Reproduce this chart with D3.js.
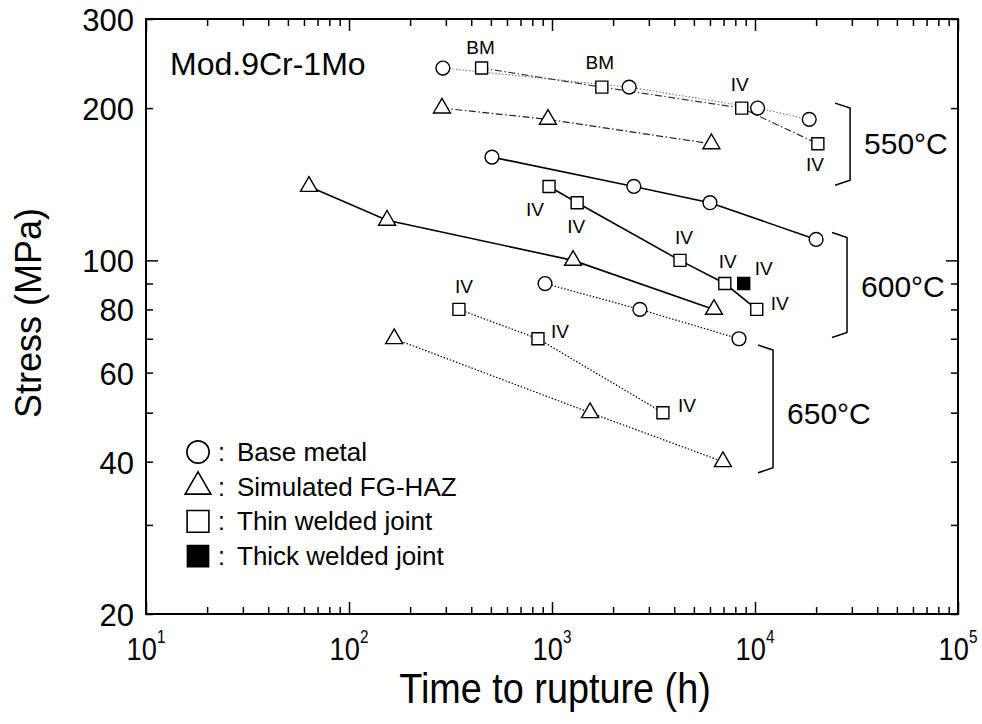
<!DOCTYPE html>
<html>
<head>
<meta charset="utf-8">
<script src="https://cdn.jsdelivr.net/npm/d3@7"></script>
<style>
  body { margin: 0; background: #fff; }
  text { font-family: "Liberation Sans", Arial, sans-serif; fill: #000; }
</style>
</head>
<body>
<div id="chart"></div>
<script>
// Chart size
const w = 982;
const h = 724;

// Axis ticks
const timeTicks = [10,20,30,40,50,60,70,80,90,100,200,300,400,500,600,700,800,900,
                   1000,2000,3000,4000,5000,6000,7000,8000,9000,
                   10000,20000,30000,40000,50000,60000,70000,80000,90000,100000];
const timeDecades = [1, 2, 3, 4, 5];
const stressTicks = [20, 30, 40, 50, 60, 70, 80, 90, 100, 200, 300];
const stressLabels = [20, 40, 60, 80, 100, 200, 300];

// Data: [time to rupture (h), stress (MPa)]
const bm550 = [[290, 240], [2400, 220], [10300, 200], [18500, 190]];
const thin550 = [[450, 240], [1760, 220], [8600, 200], [20400, 170]];
const haz550 = [[287, 200], [955, 190], [6100, 170]];
const bm600 = [[506, 160], [2530, 140], [6000, 130], [20000, 110]];
const thin600 = [[967, 140], [1330, 130], [4270, 100], [7100, 90], [10200, 80]];
const thick600 = [[8800, 90]];
const haz600 = [[63.5, 140], [154, 120], [1270, 100], [6280, 80]];
const bm650 = [[924, 90], [2710, 80], [8340, 70]];
const thin650 = [[348, 80], [853, 70], [3520, 50]];
const haz650 = [[167, 70], [1540, 50], [6950, 40]];

// Fracture location notes, anchored on a data point
const notes = [
  {text: "BM", t: 450, s: 240, dx: -1, dy: -21},
  {text: "BM", t: 1760, s: 220, dx: -2, dy: -25},
  {text: "IV", t: 8600, s: 200, dx: -2, dy: -24},
  {text: "IV", t: 20400, s: 170, dx: -3, dy: 20},
  {text: "IV", t: 967, s: 140, dx: -14, dy: 23},
  {text: "IV", t: 1330, s: 130, dx: -1, dy: 23},
  {text: "IV", t: 4270, s: 100, dx: 4, dy: -23},
  {text: "IV", t: 7100, s: 90, dx: 3, dy: -22},
  {text: "IV", t: 8800, s: 90, dx: 20, dy: -15},
  {text: "IV", t: 10200, s: 80, dx: 23, dy: -6},
  {text: "IV", t: 348, s: 80, dx: 5, dy: -23},
  {text: "IV", t: 853, s: 70, dx: 22, dy: -8},
  {text: "IV", t: 3520, s: 50, dx: 24, dy: -8}
];

// Temperature brackets
const groups = [
  {label: "550°C", t: 29400, top: 200, bottom: 144, mid: 171},
  {label: "600°C", t: 28400, top: 111, bottom: 72, mid: 89},
  {label: "650°C", t: 12270, top: 66.5, bottom: 38.9, mid: 50}
];

const legendItems = ["Base metal", "Simulated FG-HAZ", "Thin welded joint", "Thick welded joint"];

// Scales
const x = d3.scaleLog().domain([10, 1e5]).range([146, 958]);
const y = d3.scaleLog().domain([20, 300]).range([614, 19]);

const svg = d3.select("#chart")
              .append("svg")
              .attr("width", w)
              .attr("height", h);

// Axes, ticks drawn inward on all four sides
function styleTicks(g, isMajor, vertical) {
  g.select(".domain").remove();
  g.selectAll(".tick text").remove();
  g.selectAll(".tick line")
   .attr("stroke", "#000")
   .attr("stroke-width", 1.5)
   .each(function (d) {
     const len = isMajor(d) ? 12 : 7;
     const el = d3.select(this);
     const sign = +el.attr(vertical ? "x2" : "y2") < 0 ? -1 : 1;
     el.attr(vertical ? "x2" : "y2", sign * len);
   });
}
const isDecade = d => Math.abs(Math.log10(d) - Math.round(Math.log10(d))) < 1e-6;
const isHundred = d => d === 100;

svg.append("g").attr("transform", "translate(0,614)")
   .call(d3.axisBottom(x).tickValues(timeTicks).tickSize(-7))
   .call(g => styleTicks(g, isDecade, false));
svg.append("g").attr("transform", "translate(0,19)")
   .call(d3.axisTop(x).tickValues(timeTicks).tickSize(-7))
   .call(g => styleTicks(g, isDecade, false));
svg.append("g").attr("transform", "translate(146,0)")
   .call(d3.axisLeft(y).tickValues(stressTicks).tickSize(-7))
   .call(g => styleTicks(g, isHundred, true));
svg.append("g").attr("transform", "translate(958,0)")
   .call(d3.axisRight(y).tickValues(stressTicks).tickSize(-7))
   .call(g => styleTicks(g, isHundred, true));

// Frame
svg.append("rect")
   .attr("x", 146).attr("y", 19)
   .attr("width", 958 - 146).attr("height", 614 - 19)
   .attr("fill", "none")
   .attr("stroke", "#000")
   .attr("stroke-width", 2);

// Y tick labels
svg.selectAll(".ylab")
   .data(stressLabels)
   .enter()
   .append("text")
   .attr("class", "ylab")
   .attr("x", 134)
   .attr("y", d => y(d) + 12)
   .attr("text-anchor", "end")
   .style("font-size", "31px")
   .text(d => d);

// X tick labels 10^n (condensed)
const xl = svg.selectAll(".xlab")
   .data(timeDecades)
   .enter()
   .append("g")
   .attr("class", "xlab")
   .attr("transform", d => "translate(" + x(Math.pow(10, d)) + ",660) scale(0.85,1)")
   .append("text")
   .attr("text-anchor", "middle")
   .style("font-size", "32px");
xl.append("tspan").text("10");
xl.append("tspan").attr("dy", -17).style("font-size", "18px").text(d => d);

// Axis titles
svg.append("g")
   .attr("transform", "translate(555,703) scale(0.9,1)")
   .append("text")
   .attr("text-anchor", "middle")
   .style("font-size", "42px")
   .text("Time to rupture (h)");

svg.append("text")
   .attr("transform", "translate(41,313) rotate(-90)")
   .attr("text-anchor", "middle")
   .style("font-size", "36px")
   .text("Stress (MPa)");

svg.append("text")
   .attr("x", 170).attr("y", 75)
   .style("font-size", "32px")
   .text("Mod.9Cr-1Mo");

// Lines
const line = d3.line().x(d => x(d[0])).y(d => y(d[1]));
const dashDot = "7,2.5,1.5,2.5";
const dotted = "1.5,1.8";
const series = [
  {data: bm550, shape: "circle", dash: dotted, color: "#777", width: 1.1},
  {data: thin550, shape: "square", dash: dashDot, color: "#333", width: 1.2},
  {data: haz550, shape: "triangle", dash: dashDot, color: "#222", width: 1.2},
  {data: bm600, shape: "circle", dash: null, color: "#000", width: 1.6},
  {data: thin600, shape: "square", dash: null, color: "#000", width: 1.6},
  {data: haz600, shape: "triangle", dash: null, color: "#000", width: 1.6},
  {data: bm650, shape: "circle", dash: dotted, color: "#000", width: 1.2},
  {data: thin650, shape: "square", dash: dotted, color: "#000", width: 1.2},
  {data: haz650, shape: "triangle", dash: dotted, color: "#000", width: 1.2}
];

series.forEach(function (s) {
  svg.append("path")
     .attr("d", line(s.data))
     .attr("fill", "none")
     .attr("stroke", s.color)
     .attr("stroke-width", s.width)
     .attr("stroke-dasharray", s.dash);
});

// Markers
const symbols = {circle: d3.symbolCircle, square: d3.symbolSquare, triangle: d3.symbolTriangle};
const areas = {circle: 150, square: 144, triangle: 125};

function drawMarkers(data, shape, fill, scale) {
  svg.selectAll(null)
     .data(data)
     .enter()
     .append("path")
     .attr("d", d3.symbol().type(symbols[shape]).size(areas[shape] * (scale || 1)))
     .attr("transform", d => "translate(" + x(d[0]) + "," + y(d[1]) + ")")
     .attr("fill", fill)
     .attr("stroke", "#000")
     .attr("stroke-width", 1.4);
}
series.forEach(s => drawMarkers(s.data, s.shape, "#fff"));
drawMarkers(thick600, "square", "#000");

// Notes
svg.selectAll(".note")
   .data(notes)
   .enter()
   .append("text")
   .attr("class", "note")
   .attr("x", d => x(d.t) + d.dx)
   .attr("y", d => y(d.s) + d.dy)
   .attr("dy", "0.36em")
   .attr("text-anchor", "middle")
   .style("font-size", "19px")
   .text(d => d.text);

// Temperature brackets
groups.forEach(function (g) {
  const bx = x(g.t);
  svg.append("path")
     .attr("d", "M" + (bx - 15) + "," + (y(g.top) - 5) + "L" + bx + "," + y(g.top) +
                "L" + bx + "," + y(g.bottom) + "L" + (bx - 15) + "," + (y(g.bottom) + 5))
     .attr("fill", "none")
     .attr("stroke", "#000")
     .attr("stroke-width", 1.5);
  svg.append("text")
     .attr("x", bx + 14)
     .attr("y", y(g.mid) + 11)
     .style("font-size", "30px")
     .text(g.label);
});

// Legend
const legendShapes = ["circle", "triangle", "square", "square"];
const legendFill = ["#fff", "#fff", "#fff", "#000"];
const legendScale = [2.6, 2.3, 3.3, 3.1];
legendItems.forEach(function (item, i) {
  const ly = 452 + i * 34.7;
  svg.append("path")
     .attr("d", d3.symbol().type(symbols[legendShapes[i]]).size(areas[legendShapes[i]] * legendScale[i]))
     .attr("transform", "translate(198," + ly + ")")
     .attr("fill", legendFill[i])
     .attr("stroke", "#000")
     .attr("stroke-width", 1.6);
  svg.append("text")
     .attr("x", 218).attr("y", ly + 9)
     .style("font-size", "25px")
     .text(":");
  svg.append("text")
     .attr("x", 237).attr("y", ly + 9)
     .style("font-size", "26px")
     .text(item);
});
</script>
</body>
</html>
